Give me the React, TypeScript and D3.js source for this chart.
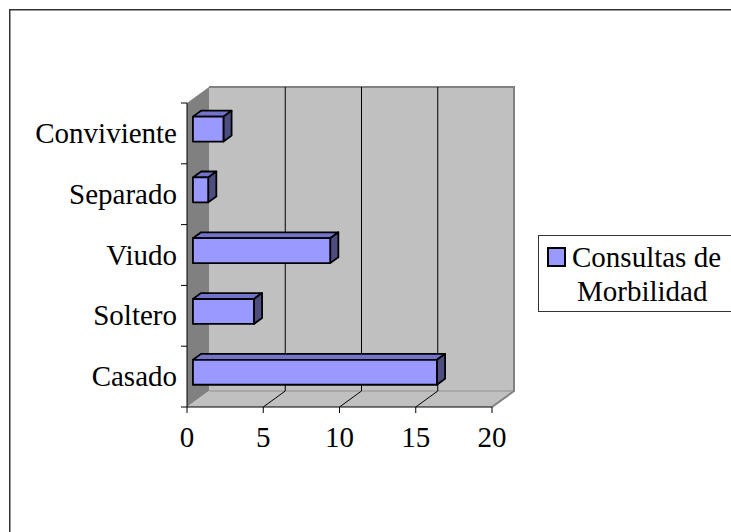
import React from "react";
import * as d3 from "d3";

const categories = ["Casado", "Soltero", "Viudo", "Separado", "Conviviente"];
const values = [16, 4, 9, 1, 2];
const xTicks = [0, 5, 10, 15, 20];
const seriesName = ["Consultas de", "Morbilidad"];

const W = 731;
const H = 532;
const FONT = '"Liberation Serif", "Times New Roman", Times, serif';
const FS = 29;

export default function App() {
  const x = d3.scaleLinear().domain([0, 20]).range([187, 492]);
  const y = d3.scaleBand<string>().domain(categories).range([407, 103]);
  const DX = 22;
  const DY = 16;
  const f1 = 0.27;
  const f2 = 0.64;
  const bh = y.bandwidth() * 0.41;

  const x0 = x(0);
  const x1 = x(20);
  const yTop = 103;
  const yBot = 407;

  const barFront = "#9999FF";
  const barTop = "#7373CC";
  const barSide = "#4D4D80";
  const ts = { fontFamily: FONT, fontSize: FS };

  return (
    <svg
      width={W}
      height={H}
      style={{ position: "fixed", left: 0, top: 0, background: "#fff" }}
    >
      {/* outer frame */}
      <rect x={9.75} y={9.75} width={800} height={600} fill="none" stroke="#333" strokeWidth={1.5} />

      {/* left wall */}
      <polygon
        points={`${x0},${yTop} ${x0 + DX},${yTop - DY} ${x0 + DX},${yBot - DY} ${x0},${yBot}`}
        fill="#808080"
      />
      {/* back wall */}
      <rect x={x0 + DX} y={yTop - DY} width={x1 - x0} height={yBot - yTop} fill="#C0C0C0" />
      {/* floor */}
      <polygon
        points={`${x0},${yBot} ${x1},${yBot} ${x1 + DX},${yBot - DY} ${x0 + DX},${yBot - DY}`}
        fill="#C0C0C0"
      />
      {/* wall edges */}
      <line x1={x0 + DX} y1={yBot - DY} x2={x1 + DX} y2={yBot - DY} stroke="#A0A0A0" strokeWidth={1.5} />
      <polyline
        points={`${x0 + DX},${yTop - DY} ${x1 + DX},${yTop - DY} ${x1 + DX},${yBot - DY} ${x1},${yBot}`}
        fill="none"
        stroke="#808080"
        strokeWidth={2}
      />

      {/* gridlines */}
      {xTicks.slice(1, -1).map((t) => (
        <g key={"g" + t}>
          <line x1={x(t) + DX} y1={yTop - DY} x2={x(t) + DX} y2={yBot - DY} stroke="#000" strokeWidth={1} />
          <line x1={x(t)} y1={yBot} x2={x(t) + DX} y2={yBot - DY} stroke="#000" strokeWidth={1} />
        </g>
      ))}

      {/* bars */}
      {categories.map((c, i) => {
        const v = values[i];
        const bx0 = x(0) + f1 * DX;
        const bx1 = x(v) + f1 * DX;
        const yc = (y(c) as number) + y.bandwidth() / 2;
        const bt = yc - bh / 2 - f1 * DY;
        const bb = yc + bh / 2 - f1 * DY;
        const ddx = (f2 - f1) * DX;
        const ddy = (f2 - f1) * DY;
        return (
          <g key={c} stroke="#000" strokeWidth={1.8} strokeLinejoin="round">
            <polygon
              points={`${bx0},${bt} ${bx1},${bt} ${bx1 + ddx},${bt - ddy} ${bx0 + ddx},${bt - ddy}`}
              fill={barTop}
            />
            <polygon
              points={`${bx1},${bt} ${bx1 + ddx},${bt - ddy} ${bx1 + ddx},${bb - ddy} ${bx1},${bb}`}
              fill={barSide}
            />
            <rect x={bx0} y={bt} width={bx1 - bx0} height={bb - bt} fill={barFront} />
          </g>
        );
      })}

      {/* axes */}
      <line x1={x0} y1={yTop} x2={x0} y2={yBot} stroke="#000" strokeWidth={1} />
      <line x1={x0} y1={yBot} x2={x1} y2={yBot} stroke="#000" strokeWidth={1} />
      {[...categories.map((c) => y(c) as number), yBot].map((yy, i) => (
        <line key={"yt" + i} x1={x0 - 6} y1={yy} x2={x0} y2={yy} stroke="#000" strokeWidth={1} />
      ))}
      {xTicks.map((t) => (
        <line key={"xt" + t} x1={x(t)} y1={yBot} x2={x(t)} y2={yBot + 6} stroke="#000" strokeWidth={1} />
      ))}

      {/* labels */}
      {categories.map((c) => (
        <text
          key={"l" + c}
          x={177}
          y={(y(c) as number) + y.bandwidth() / 2 + 9.5}
          textAnchor="end"
          style={ts}
          fill="#000"
        >
          {c}
        </text>
      ))}
      {xTicks.map((t) => (
        <text key={"xl" + t} x={x(t)} y={447} textAnchor="middle" style={ts} fill="#000">
          {t}
        </text>
      ))}

      {/* legend */}
      <rect x={538.5} y={235.5} width={250} height={76} fill="#fff" stroke="#333" strokeWidth={1} />
      <rect x={548} y={248} width={17} height={18} fill={barFront} stroke="#000" strokeWidth={2} />
      <text x={572} y={267} style={ts} fill="#000">
        {seriesName[0]}
      </text>
      <text x={577} y={301} style={ts} fill="#000">
        {seriesName[1]}
      </text>
    </svg>
  );
}
